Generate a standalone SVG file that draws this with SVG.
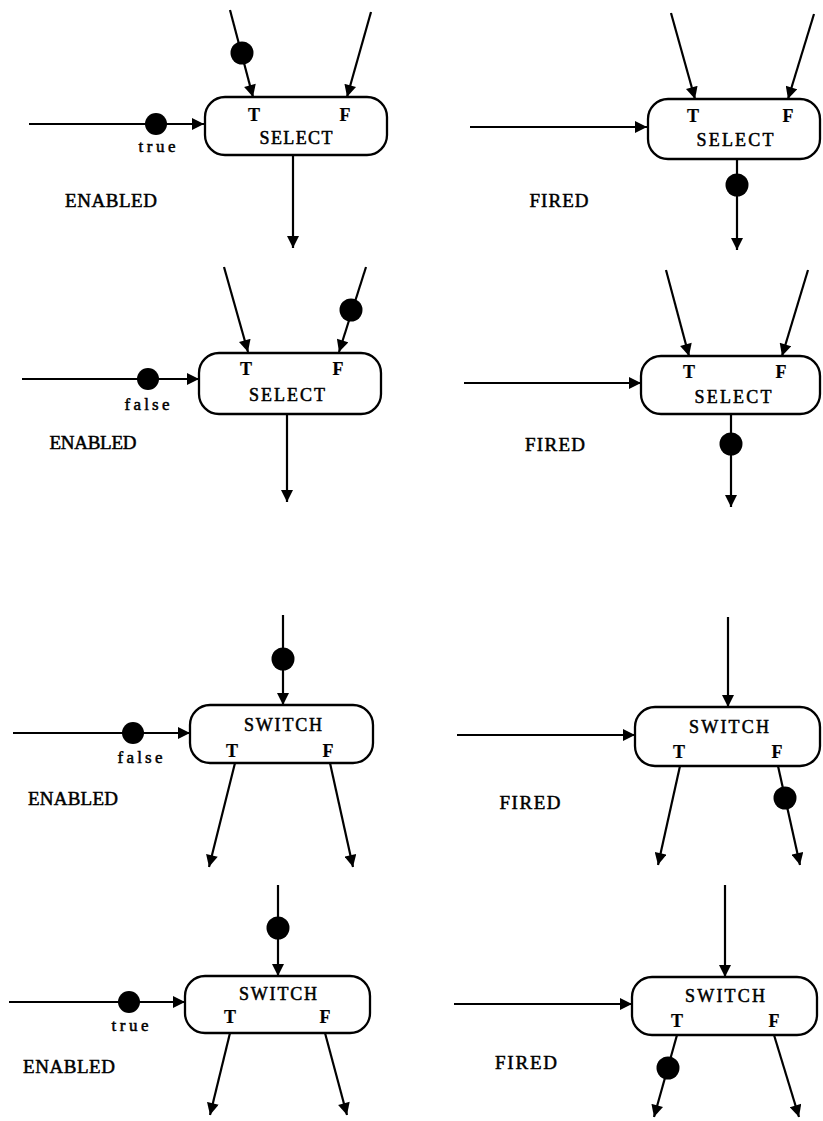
<svg xmlns="http://www.w3.org/2000/svg" width="823" height="1121" viewBox="0 0 823 1121">
<style>
.box{fill:#fff;stroke:#000;stroke-width:2.3}
.ln{fill:none;stroke:#000;stroke-width:2.2}
.tok{fill:#000}
.t{font-family:"Liberation Serif",serif;fill:#000;stroke:#000;stroke-width:0.5}
.nm{font-size:18px;text-anchor:middle}
.pt{font-size:18px;text-anchor:middle;font-weight:bold;stroke-width:0.2}
.st{font-size:19px;text-anchor:middle}
.lb{font-size:17px;text-anchor:middle}
</style>
<defs>
<marker id="ah" viewBox="0 0 10 10" refX="10" refY="5" markerWidth="13" markerHeight="12" markerUnits="userSpaceOnUse" orient="auto">
<path d="M0,0 L10,5 L0,10 Z" fill="#000"/>
</marker>
</defs>
<rect width="823" height="1121" fill="#fff"/>
<g id="connectors">
<line class="ln" x1="230" y1="10" x2="253" y2="97" marker-end="url(#ah)"/>
<line class="ln" x1="371" y1="12" x2="347" y2="97" marker-end="url(#ah)"/>
<line class="ln" x1="29" y1="124" x2="204" y2="124" marker-end="url(#ah)"/>
<line class="ln" x1="293" y1="155" x2="293" y2="248" marker-end="url(#ah)"/>
<line class="ln" x1="671" y1="13" x2="695" y2="99" marker-end="url(#ah)"/>
<line class="ln" x1="814" y1="14" x2="788" y2="99" marker-end="url(#ah)"/>
<line class="ln" x1="470" y1="127" x2="647" y2="127" marker-end="url(#ah)"/>
<line class="ln" x1="737" y1="159" x2="737" y2="250" marker-end="url(#ah)"/>
<line class="ln" x1="224" y1="267" x2="248" y2="352" marker-end="url(#ah)"/>
<line class="ln" x1="366" y1="267" x2="339" y2="352" marker-end="url(#ah)"/>
<line class="ln" x1="22" y1="379" x2="199" y2="379" marker-end="url(#ah)"/>
<line class="ln" x1="287" y1="414" x2="287" y2="502" marker-end="url(#ah)"/>
<line class="ln" x1="666" y1="270" x2="689" y2="356" marker-end="url(#ah)"/>
<line class="ln" x1="808" y1="270" x2="782" y2="356" marker-end="url(#ah)"/>
<line class="ln" x1="464" y1="383" x2="641" y2="383" marker-end="url(#ah)"/>
<line class="ln" x1="731" y1="414" x2="731" y2="507" marker-end="url(#ah)"/>
<line class="ln" x1="283" y1="615" x2="283" y2="705" marker-end="url(#ah)"/>
<line class="ln" x1="13" y1="733" x2="190" y2="733" marker-end="url(#ah)"/>
<line class="ln" x1="235" y1="763" x2="209" y2="867" marker-end="url(#ah)"/>
<line class="ln" x1="330" y1="763" x2="353" y2="867" marker-end="url(#ah)"/>
<line class="ln" x1="728" y1="617" x2="728" y2="707" marker-end="url(#ah)"/>
<line class="ln" x1="457" y1="735" x2="635" y2="735" marker-end="url(#ah)"/>
<line class="ln" x1="680" y1="766" x2="658" y2="865" marker-end="url(#ah)"/>
<line class="ln" x1="778" y1="766" x2="800" y2="865" marker-end="url(#ah)"/>
<line class="ln" x1="278" y1="885" x2="278" y2="976" marker-end="url(#ah)"/>
<line class="ln" x1="9" y1="1002" x2="185" y2="1002" marker-end="url(#ah)"/>
<line class="ln" x1="230" y1="1033" x2="210" y2="1115" marker-end="url(#ah)"/>
<line class="ln" x1="325" y1="1033" x2="347" y2="1115" marker-end="url(#ah)"/>
<line class="ln" x1="725" y1="885" x2="725" y2="977" marker-end="url(#ah)"/>
<line class="ln" x1="454" y1="1004" x2="632" y2="1004" marker-end="url(#ah)"/>
<line class="ln" x1="677" y1="1035" x2="654" y2="1117" marker-end="url(#ah)"/>
<line class="ln" x1="774" y1="1035" x2="799" y2="1117" marker-end="url(#ah)"/>
</g>
<g id="tokens">
<circle class="tok" cx="242" cy="53" r="11.5"/>
<circle class="tok" cx="156" cy="124" r="11"/>
<circle class="tok" cx="737" cy="185" r="11.5"/>
<circle class="tok" cx="351" cy="310" r="11.5"/>
<circle class="tok" cx="148" cy="379" r="11"/>
<circle class="tok" cx="731" cy="444" r="11.5"/>
<circle class="tok" cx="283" cy="659" r="11.5"/>
<circle class="tok" cx="133" cy="733" r="11"/>
<circle class="tok" cx="785" cy="798" r="11.5"/>
<circle class="tok" cx="278" cy="928" r="11.5"/>
<circle class="tok" cx="129" cy="1002" r="11"/>
<circle class="tok" cx="668" cy="1068" r="11.5"/>
</g>
<g id="node-select-enabled-true">
<rect class="box" x="205" y="97" width="182" height="58" rx="20"/>
<text class="t pt" x="254" y="121">T</text>
<text class="t pt" x="345" y="121">F</text>
<text class="t nm" x="296" y="144" textLength="73">SELECT</text>
<text class="t lb" x="157" y="152" textLength="37">true</text>
<text class="t st" x="111" y="207" textLength="92">ENABLED</text>
</g>
<g id="node-select-fired-true">
<rect class="box" x="648" y="99" width="172" height="60" rx="20"/>
<text class="t pt" x="693" y="122">T</text>
<text class="t pt" x="788" y="122">F</text>
<text class="t nm" x="735" y="146" textLength="77">SELECT</text>
<text class="t st" x="559" y="207" textLength="59">FIRED</text>
</g>
<g id="node-select-enabled-false">
<rect class="box" x="199" y="353" width="182" height="61" rx="20"/>
<text class="t pt" x="246" y="375">T</text>
<text class="t pt" x="338" y="375">F</text>
<text class="t nm" x="287" y="401" textLength="76">SELECT</text>
<text class="t lb" x="147" y="410" textLength="45">false</text>
<text class="t st" x="93" y="449" textLength="87">ENABLED</text>
</g>
<g id="node-select-fired-false">
<rect class="box" x="641" y="356" width="179" height="58" rx="20"/>
<text class="t pt" x="689" y="378">T</text>
<text class="t pt" x="781" y="378">F</text>
<text class="t nm" x="733" y="403" textLength="77">SELECT</text>
<text class="t st" x="555" y="451" textLength="60">FIRED</text>
</g>
<g id="node-switch-enabled-false">
<rect class="box" x="190" y="705" width="183" height="58" rx="20"/>
<text class="t nm" x="283" y="731" textLength="78">SWITCH</text>
<text class="t pt" x="232" y="757">T</text>
<text class="t pt" x="328" y="757">F</text>
<text class="t lb" x="140" y="763" textLength="45">false</text>
<text class="t st" x="73" y="805" textLength="90">ENABLED</text>
</g>
<g id="node-switch-fired-false">
<rect class="box" x="635" y="707" width="185" height="59" rx="20"/>
<text class="t nm" x="729" y="733" textLength="80">SWITCH</text>
<text class="t pt" x="679" y="758">T</text>
<text class="t pt" x="777" y="758">F</text>
<text class="t st" x="530" y="809" textLength="61">FIRED</text>
</g>
<g id="node-switch-enabled-true">
<rect class="box" x="185" y="976" width="185" height="57" rx="20"/>
<text class="t nm" x="278" y="1000" textLength="78">SWITCH</text>
<text class="t pt" x="230" y="1023">T</text>
<text class="t pt" x="325" y="1023">F</text>
<text class="t lb" x="130" y="1031" textLength="37">true</text>
<text class="t st" x="69" y="1073" textLength="92">ENABLED</text>
</g>
<g id="node-switch-fired-true">
<rect class="box" x="632" y="977" width="185" height="58" rx="20"/>
<text class="t nm" x="725" y="1002" textLength="80">SWITCH</text>
<text class="t pt" x="677" y="1027">T</text>
<text class="t pt" x="774" y="1027">F</text>
<text class="t st" x="526" y="1069" textLength="62">FIRED</text>
</g>
</svg>
